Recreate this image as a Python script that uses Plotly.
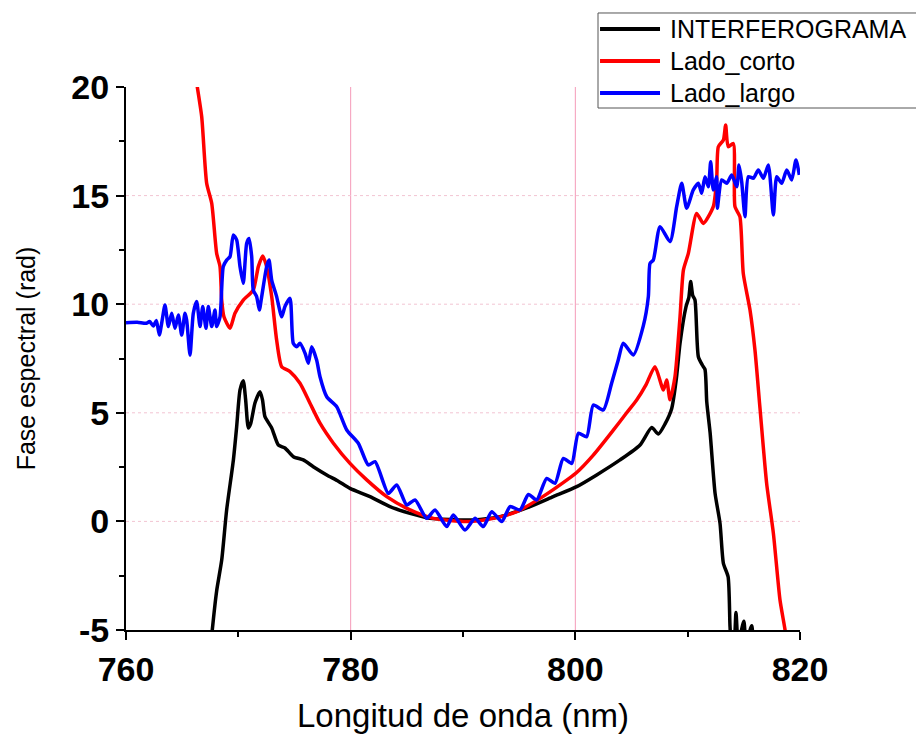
import plotly.graph_objects as go

# Spectral phase curves (wavelength in nm, phase in rad)
interf_x = [767.5, 767.68, 768.07, 768.52, 768.96, 769.56, 769.85, 770.15, 770.44, 770.65,
            770.89, 771.1, 771.48, 771.93, 772.15, 772.37, 772.97, 773.56, 774.15, 774.9,
            775.78, 776.67, 777.87, 778.9, 779.94, 781.72, 783.5, 785.28, 787.06, 789.1,
            790.5, 792.67, 793.3, 795.97, 798.04, 800.12, 801.9, 803.98, 805.76, 806.8,
            807.39, 808.0, 808.58, 809.0, 809.32, 809.85, 810.1, 810.27, 810.45, 810.65,
            810.95, 811.3, 811.54, 811.7, 812.0, 812.44, 812.88, 813.18, 813.6, 813.77,
            813.9, 814.1, 814.3, 814.5, 815.0, 815.2, 815.7, 815.9, 816.3]
interf_y = [-6.0, -5.0, -3.2, -1.78, 0.53, 2.83, 4.35, 6.05, 6.48, 5.6,
            4.3, 4.5, 5.45, 5.97, 5.6, 4.82, 4.3, 3.52, 3.38, 2.98,
            2.83, 2.52, 2.14, 1.85, 1.52, 1.14, 0.68, 0.37, 0.14, 0.08,
            0.06, 0.16, 0.22, 0.68, 1.14, 1.6, 2.14, 2.83, 3.52, 4.32,
            4.02, 4.5, 5.2, 6.6, 8.2, 9.88, 10.3, 11.04, 10.4, 10.19,
            7.58, 7.2, 7.0, 5.5, 4.07, 1.29, -0.09, -1.93, -2.55, -4.85,
            -5.6, -5.6, -4.2, -5.6, -4.6, -5.6, -4.8, -5.6, -5.3]

corto_x = [766.2, 766.35, 766.74, 767.18, 767.63, 768.07, 768.37, 768.52, 768.72, 769.26,
           769.7, 770.44, 771.33, 771.78, 772.17, 772.52, 772.97, 773.41, 773.86, 774.6,
           775.49, 776.38, 777.27, 778.46, 779.94, 781.43, 783.21, 785.28, 787.36, 790.33,
           792.7, 794.78, 796.86, 798.64, 800.12, 801.6, 803.38, 804.57, 805.46, 806.3,
           807.09, 807.84, 808.13, 808.43, 808.87, 809.32, 809.62, 810.06, 810.8, 811.4,
           812.28, 812.58, 812.73, 813.18, 813.38, 813.61, 814.06, 814.21, 814.65, 814.95,
           815.55, 815.99, 816.44, 817.03, 817.63, 818.22, 818.67, 818.8]
corto_y = [20.6, 20.0, 18.63, 15.57, 14.65, 12.34, 11.73, 10.19, 9.42, 8.89,
           9.58, 10.19, 10.65, 11.73, 12.22, 11.73, 10.35, 8.35, 7.12, 6.9,
           6.36, 5.44, 4.52, 3.6, 2.67, 1.91, 1.14, 0.53, 0.14, -0.01,
           0.14, 0.45, 1.06, 1.68, 2.25, 3.05, 4.2, 5.0, 5.59, 6.3,
           7.12, 6.05, 6.51, 5.6, 6.66, 9.42, 11.57, 12.34, 14.18, 13.72,
           14.49, 15.72, 17.25, 17.56, 18.25, 17.25, 17.4, 14.49, 14.03, 11.42,
           9.73, 7.89, 5.2, 1.75, -0.55, -3.62, -5.0, -5.6]

largo_x = [760.0, 761.0, 761.8, 762.1, 762.43, 762.7, 762.97, 763.2, 763.47, 763.77,
           764.07, 764.36, 764.66, 764.96, 765.25, 765.4, 765.7, 765.99, 766.29, 766.59,
           766.83, 767.12, 767.33, 767.63, 767.92, 768.07, 768.37, 768.66, 768.96, 769.26,
           769.55, 769.85, 770.15, 770.44, 770.74, 770.95, 771.19, 771.33, 771.63, 771.87,
           772.08, 772.52, 772.73, 772.97, 773.41, 773.86, 774.15, 774.6, 774.89, 775.19,
           775.49, 775.94, 776.23, 776.53, 776.97, 777.27, 777.87, 778.76, 779.65, 780.68,
           781.57, 782.17, 783.35, 784.1, 784.99, 785.73, 786.77, 787.51, 788.55, 789.14,
           790.18, 791.07, 791.81, 792.56, 793.45, 794.19, 795.08, 795.82, 796.56, 797.45,
           798.19, 798.93, 799.68, 800.27, 801.01, 801.6, 802.49, 803.23, 803.82, 804.27,
           805.16, 806.05, 806.5, 806.65, 806.94, 807.54, 808.43, 809.02, 809.47, 809.91,
           810.5, 810.95, 811.25, 811.54, 811.84, 812.05, 812.28, 812.58, 812.64, 813.03,
           813.48, 813.92, 814.37, 814.57, 814.81, 815.1, 815.4, 815.85, 816.29, 816.74,
           817.18, 817.63, 817.93, 818.37, 818.82, 819.26, 819.64, 819.94]
largo_y = [9.15, 9.17, 9.12, 9.2, 9.0, 9.25, 8.58, 9.2, 9.96, 8.97,
           9.58, 8.89, 9.5, 8.58, 9.58, 9.27, 7.66, 9.58, 10.12, 8.97,
           9.89, 8.89, 9.89, 8.97, 9.73, 8.97, 9.42, 11.73, 12.03, 12.19,
           13.19, 12.96, 11.73, 10.96, 12.8, 13.03, 12.19, 10.65, 10.35, 9.73,
           10.35, 11.73, 12.03, 11.11, 10.35, 9.42, 9.89, 10.27, 8.2, 8.04,
           8.2, 7.74, 7.28, 8.04, 7.43, 6.66, 5.74, 5.28, 4.21, 3.6,
           2.6, 2.75, 1.29, 1.68, 0.76, 0.99, 0.14, 0.53, -0.24, 0.3,
           -0.4, 0.14, -0.24, 0.45, -0.01, 0.68, 0.53, 1.24, 0.99, 1.98,
           1.75, 2.9, 2.67, 4.06, 3.9, 5.36, 5.13, 6.36, 7.43, 8.2,
           7.66, 9.0, 10.35, 11.88, 12.03, 13.57, 12.88, 14.49, 15.57, 14.42,
           15.26, 15.57, 15.11, 15.87, 15.41, 16.56, 15.26, 15.87, 14.42, 15.72,
           15.57, 15.95, 15.41, 16.41, 15.64, 14.03, 15.87, 15.8, 16.18, 15.8,
           16.41, 14.11, 15.87, 15.57, 16.18, 15.72, 16.64, 15.95]

series_names = ["INTERFEROGRAMA", "Lado_corto", "Lado_largo"]
series_colors = ["#000000", "#ff0000", "#0000ff"]

x_ticks = [760, 780, 800, 820]
x_tick_labels = ["760", "780", "800", "820"]
y_ticks = [-5, 0, 5, 10, 15, 20]
y_tick_labels = ["-5", "0", "5", "10", "15", "20"]
x_grid = [780, 800]
y_grid = [0, 5, 10, 15]

FONT = "Liberation Sans, Arial, sans-serif"

fig = go.Figure()
for name, color, xs, ys in zip(series_names, series_colors,
                               [interf_x, corto_x, largo_x],
                               [interf_y, corto_y, largo_y]):
    fig.add_trace(go.Scatter(x=xs, y=ys, mode="lines", name=name, showlegend=False,
                             line=dict(color=color, width=3.5, shape="spline", smoothing=0.6)))

# light reference grid
for gx in x_grid:
    fig.add_shape(type="line", xref="x", yref="paper", x0=gx, x1=gx, y0=0, y1=1,
                  line=dict(color="#f59ab8", width=1), layer="below")
for gy in y_grid:
    fig.add_shape(type="line", xref="paper", yref="y", x0=0, x1=1, y0=gy, y1=gy,
                  line=dict(color="#f2c4d2", width=1, dash="dot"), layer="below")

# legend box in the upper right corner, one row per series
legend_left, legend_right, legend_top, legend_bottom = 0.7003, 1.18, 1.1363, 0.9613
row_y = [1.1068, 1.0479, 0.9890]
fig.add_shape(type="rect", xref="paper", yref="paper",
              x0=legend_left, x1=legend_right, y0=legend_bottom, y1=legend_top,
              line=dict(color="#555555", width=1), fillcolor="white", layer="above")
for name, color, ry in zip(series_names, series_colors, row_y):
    fig.add_shape(type="line", xref="paper", yref="paper",
                  x0=legend_left + 0.003, x1=legend_left + 0.092, y0=ry, y1=ry,
                  line=dict(color=color, width=4), layer="above")
    fig.add_annotation(xref="paper", yref="paper", x=legend_left + 0.104, y=ry,
                       xanchor="left", yanchor="middle", showarrow=False, text=name,
                       font=dict(family=FONT, size=25, color="black"))

tick_font = dict(family=FONT, size=34, color="black", weight="bold")

fig.update_layout(
    width=916, height=734,
    margin=dict(l=126, r=116, t=87, b=104),
    paper_bgcolor="white", plot_bgcolor="white",
    font=dict(family=FONT, color="black"),
    showlegend=False,
    xaxis=dict(range=[760, 820], tickvals=x_ticks, ticktext=x_tick_labels,
               showgrid=False, zeroline=False, automargin=False,
               showline=True, linecolor="black", linewidth=2,
               ticks="outside", ticklen=8, tickwidth=2, tickcolor="black",
               tickfont=tick_font,
               minor=dict(dtick=10, tick0=760, ticks="outside", ticklen=5, tickwidth=2, tickcolor="black"),
               title=dict(text="Longitud de onda (nm)", font=dict(size=33), standoff=18)),
    yaxis=dict(range=[-5, 20], tickvals=y_ticks, ticktext=y_tick_labels,
               showgrid=False, zeroline=False, automargin=False,
               showline=True, linecolor="black", linewidth=2,
               ticks="outside", ticklen=8, tickwidth=2, tickcolor="black",
               tickfont=tick_font,
               minor=dict(dtick=2.5, tick0=-5, ticks="outside", ticklen=5, tickwidth=2, tickcolor="black"),
               title=dict(text="Fase espectral (rad)", font=dict(size=25), standoff=29)),
)

fig.write_html("out.html")
